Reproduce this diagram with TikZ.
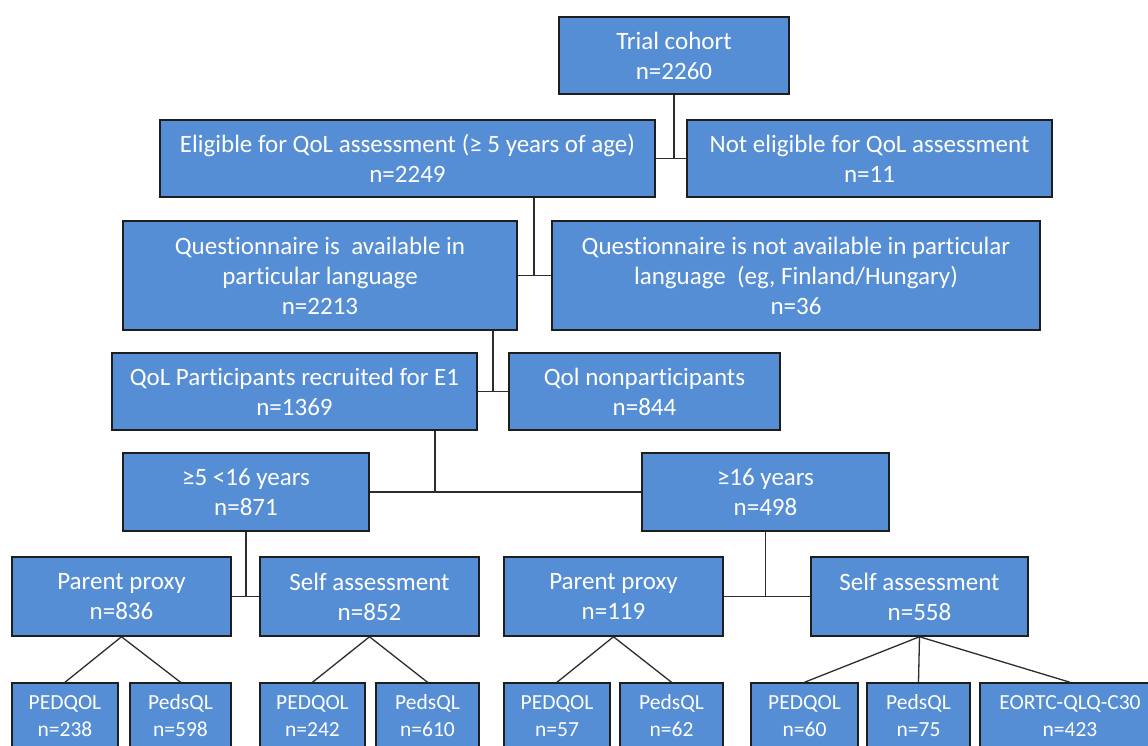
\documentclass[tikz,border=0pt]{standalone}
\usepackage{fontspec}
\setmainfont{Carlito}[Ligatures={NoCommon}]
\definecolor{boxblue}{RGB}{85,142,213}
\definecolor{edgecol}{RGB}{30,30,30}
\definecolor{linecol}{RGB}{45,45,45}
\begin{document}
\begin{tikzpicture}[x=1pt,y=-1pt,
  box/.style={draw=edgecol, line width=1.5pt, fill=boxblue, text=white, align=center,
    inner sep=0pt, font=\fontsize{25}{30}\selectfont},
  small/.style={box, font=\fontsize{21.5}{27}\selectfont, minimum height=66pt},
  conn/.style={draw=linecol, line width=1.3pt}]
\clip (0,0) rectangle (1148,745);
\fill[white] (0,0) rectangle (1148,745);
% level 1
\node[box, minimum width=230pt, minimum height=77pt] (trial) at (674,55.5) {Trial cohort\\n=2260};
% level 2
\node[box, minimum width=495pt, minimum height=77pt] (elig) at (407.5,158.5) {Eligible for QoL assessment (≥ 5 years of age)\\n=2249};
\node[box, minimum width=365pt, minimum height=77pt] (notelig) at (869.5,158.5) {Not eligible for QoL assessment\\n=11};
% level 3
\node[box, minimum width=394pt, minimum height=109pt] (qavail) at (320,275.5) {Questionnaire is\ \ available in\\particular language\\n=2213};
\node[box, minimum width=488pt, minimum height=109pt] (qnot) at (796,275.5) {Questionnaire is not available in particular\\language\ \ (eg, Finland/Hungary)\\n=36};
% level 4
\node[box, minimum width=365pt, minimum height=77pt] (part) at (294.5,391.5) {QoL Participants recruited for E1\\n=1369};
\node[box, minimum width=271pt, minimum height=77pt] (nonpart) at (644.5,391.5) {Qol nonparticipants\\n=844};
% level 5
\node[box, minimum width=246pt, minimum height=78pt] (young) at (246,492) {≥5 <16 years\\n=871};
\node[box, minimum width=247pt, minimum height=78pt] (old) at (765.5,492) {≥16 years\\n=498};
% level 6
\node[box, minimum width=219pt, minimum height=79pt] (pp1) at (121.5,596.5) {Parent proxy\\n=836};
\node[box, minimum width=219pt, minimum height=79pt] (sa1) at (369.5,596.5) {Self assessment\\n=852};
\node[box, minimum width=219pt, minimum height=79pt] (pp2) at (613.5,596.5) {Parent proxy\\n=119};
\node[box, minimum width=217pt, minimum height=79pt] (sa2) at (919.5,596.5) {Self assessment\\n=558};
% level 7
\node[small, minimum width=106pt] (b1) at (65,716) {PEDQOL\\n=238};
\node[small, minimum width=101pt] (b2) at (180.5,716) {PedsQL\\n=598};
\node[small, minimum width=105pt] (b3) at (312.5,716) {PEDQOL\\n=242};
\node[small, minimum width=103pt] (b4) at (427.5,716) {PedsQL\\n=610};
\node[small, minimum width=106pt] (b5) at (557,716) {PEDQOL\\n=57};
\node[small, minimum width=103pt] (b6) at (671.5,716) {PedsQL\\n=62};
\node[small, minimum width=107pt] (b7) at (804.5,716) {PEDQOL\\n=60};
\node[small, minimum width=103pt] (b8) at (918.5,716) {PedsQL\\n=75};
\node[small, minimum width=180pt] (b9) at (1070,716) {EORTC-QLQ-C30\\n=423};
% junction x-positions
\coordinate (j1) at (534,0);
\coordinate (j2) at (493,0);
\coordinate (j3) at (435,0);
% connectors
\draw[conn] (trial.south) -- (trial.south |- elig.east);
\draw[conn] (elig.east) -- (notelig.west);
\draw[conn] (j1 |- elig.south) -- (j1 |- qavail.east);
\draw[conn] (qavail.east) -- (qnot.west);
\draw[conn] (j2 |- qavail.south) -- (j2 |- part.east);
\draw[conn] (part.east) -- (nonpart.west);
\draw[conn] (j3 |- part.south) -- (j3 |- young.east);
\draw[conn] (young.east) -- (old.west);
\draw[conn] (young.south) -- (young.south |- pp1.east);
\draw[conn] (pp1.east) -- (sa1.west);
\draw[conn] (old.south) -- (old.south |- pp2.east);
\draw[conn] (pp2.east) -- (sa2.west);
\draw[conn] (pp1.south) -- (b1.north);
\draw[conn] (pp1.south) -- (b2.north);
\draw[conn] (sa1.south) -- (b3.north);
\draw[conn] (sa1.south) -- (b4.north);
\draw[conn] (pp2.south) -- (b5.north);
\draw[conn] (pp2.south) -- (b6.north);
\draw[conn] (sa2.south) -- (b7.north);
\draw[conn] (sa2.south) -- (b8.north);
\draw[conn] (sa2.south) -- (b9.north);
\end{tikzpicture}
\end{document}
